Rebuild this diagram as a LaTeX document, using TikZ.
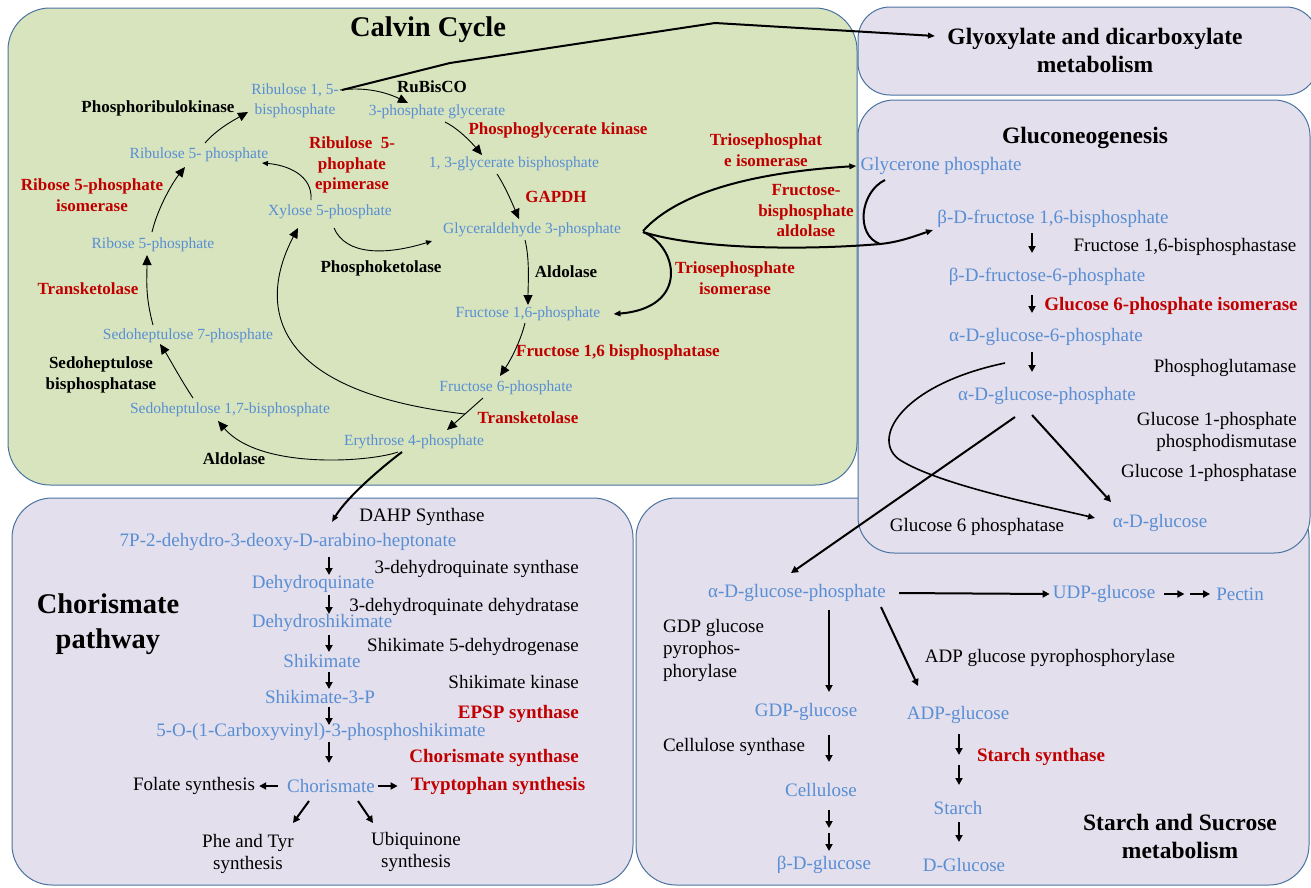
\documentclass[tikz,border=0pt]{standalone}
\usepackage{fontspec}
\setmainfont{Liberation Serif}
\usetikzlibrary{arrows.meta,calc}
\definecolor{cgreen}{RGB}{215,228,189}
\definecolor{clav}{RGB}{228,223,236}
\definecolor{cedge}{RGB}{75,115,160}
\definecolor{cblue}{RGB}{88,142,212}
\definecolor{cred}{RGB}{192,0,0}
\tikzset{
 cb/.style={font=\fontsize{15.5}{20}\selectfont, text=cblue, inner sep=0pt, align=center},
 ck/.style={font=\bfseries\fontsize{17}{20.5}\selectfont, inner sep=0pt, align=center},
 cr/.style={ck, text=cred},
 gb/.style={font=\fontsize{19}{23}\selectfont, text=cblue, inner sep=0pt},
 gk/.style={font=\fontsize{19}{22.5}\selectfont, inner sep=0pt},
 gr/.style={font=\bfseries\fontsize{19}{23}\selectfont, text=cred, inner sep=0pt},
 bigt/.style={font=\bfseries\fontsize{28.5}{35}\selectfont, inner sep=0pt, align=center},
 midt/.style={font=\bfseries\fontsize{23.5}{28}\selectfont, inner sep=0pt, align=center},
 panel/.style={draw=cedge, line width=1pt},
 tarr/.style={line width=0.9pt, -{Triangle[length=10pt,width=9pt]}},
 tsarr/.style={line width=0.9pt, -{Triangle[length=6pt,width=5pt]}},
 thk/.style={line width=2pt, -{Triangle[length=7pt,width=5.5pt]}},
 karr/.style={line width=2pt, -{Triangle[length=7pt,width=7pt]}},
}
\begin{document}
\begin{tikzpicture}[x=1pt,y=-1pt]
\useasboundingbox (0,0) rectangle (1311,887);
\clip (0,0) rectangle (1311,887);
\fill[white] (0,0) rectangle (1311,887);
% panels
\draw[panel, fill=cgreen, rounded corners=42] (8,8) rectangle (857,485);
\draw[panel, fill=clav, rounded corners=32] (858,7) rectangle (1318,95);
\draw[panel, fill=clav, rounded corners=40] (12,498) rectangle (633,885);
\draw[panel, fill=clav, rounded corners=40] (636,498) rectangle (1309,885);
\draw[panel, fill=clav, rounded corners=36] (858,100) rectangle (1310,553);

% ---------------- Calvin cycle ----------------
\node[bigt] (calvin) at (428,30) {Calvin Cycle};
\node[cb] (rubp) at (295,101) {Ribulose 1, 5-\\bisphosphate};
\node[ck] (prk) at (158,108) {Phosphoribulokinase};
\node[ck] (rubisco) at (432,87) {RuBisCO};
\node[cb] (pg3) at (437,112) {3-phosphate glycerate};
\node[cr] (pgk) at (558,130) {Phosphoglycerate kinase};
\node[cr] (rpe) at (352,165) {Ribulose\ \ 5-\\phophate\\epimerase};
\node[cb] (bpg) at (514,164) {1, 3-glycerate bisphosphate};
\node[cr] (gapdh) at (556,197) {GAPDH};
\node[cb] (ru5p) at (199,155) {Ribulose 5- phosphate};
\node[cb] (xu5p) at (330,212) {Xylose 5-phosphate};
\node[cr] (rpi) at (92,195) {Ribose 5-phosphate\\isomerase};
\node[cb] (g3p) at (532,230) {Glyceraldehyde 3-phosphate};
\node[cb] (r5p) at (153,245) {Ribose 5-phosphate};
\node[ck] (pk) at (381,268) {Phosphoketolase};
\node[ck] (ald1) at (566,272) {Aldolase};
\node[cr] (tpi1) at (766,150) {Triosephosphat\\e isomerase};
\node[cr] (fba) at (806,211) {Fructose-\\bisphosphate\\aldolase};
\node[cr] (tpi2) at (735,278) {Triosephosphate\\isomerase};
\node[cr] (tk1) at (88,289) {Transketolase};
\node[cb] (f16p) at (528,314) {Fructose 1,6-phosphate};
\node[cb] (s7p) at (188,336) {Sedoheptulose 7-phosphate};
\node[cr] (fbp) at (618,352) {Fructose 1,6 bisphosphatase};
\node[ck] (sbp) at (101,375) {Sedoheptulose\\bisphosphatase};
\node[cb] (f6p) at (506,388) {Fructose 6-phosphate};
\node[cb] (s17bp) at (230,410) {Sedoheptulose 1,7-bisphosphate};
\node[cr] (tk2) at (528,418) {Transketolase};
\node[cb] (e4p) at (414,442) {Erythrose 4-phosphate};
\node[ck] (ald2) at (234,459) {Aldolase};

% ---------------- Gluconeogenesis ----------------
\node[midt] (glyox) at (1095,50) {Glyoxylate and dicarboxylate\\metabolism};
\node[midt] (gluco) at (1085,138) {Gluconeogenesis};
\node[gb] (glyc) at (941,166) {Glycerone phosphate};
\node[gb] (bfbp) at (1053,219) {β-D-fructose 1,6-bisphosphate};
\node[gk] (fbpase) at (1185,247) {Fructose 1,6-bisphosphastase};
\node[gb] (bf6p) at (1047,277) {β-D-fructose-6-phosphate};
\node[gr] (gpi) at (1171,306) {Glucose 6-phosphate isomerase};
\node[gb] (ag6p) at (1046,337) {α-D-glucose-6-phosphate};
\node[gk] (pgm) at (1225,368) {Phosphoglutamase};
\node[gb] (agp) at (1047,396) {α-D-glucose-phosphate};
\node[gk, align=right, anchor=east] (g1pd) at (1297,432) {Glucose 1-phosphate\\phosphodismutase};
\node[gk, anchor=east] (g1pase) at (1297,473) {Glucose 1-phosphatase};
\node[gk] (g6pase) at (977,527) {Glucose 6 phosphatase};
\node[gb] (aglc) at (1160,523) {α-D-glucose};

% ---------------- Chorismate ----------------
\node[bigt] (chtitle) at (108,624) {Chorismate\\pathway};
\node[gk] (dahps) at (422,517) {DAHP Synthase};
\node[gb] (dahp) at (288,542) {7P-2-dehydro-3-deoxy-D-arabino-heptonate};
\node[gk, anchor=east] (dhqs) at (579,569) {3-dehydroquinate synthase};
\node[gb] (dhq) at (313,584) {Dehydroquinate};
\node[gk, anchor=east] (dhqd) at (579,607) {3-dehydroquinate dehydratase};
\node[gb] (dhs) at (322,623) {Dehydroshikimate};
\node[gk, anchor=east] (sdh) at (579,647) {Shikimate 5-dehydrogenase};
\node[gb] (shk) at (322,661) {Shikimate};
\node[gk, anchor=east] (sk) at (579,682) {Shikimate kinase};
\node[gb] (s3p) at (320,697) {Shikimate-3-P};
\node[gr, anchor=east] (epsps) at (579,714) {EPSP synthase};
\node[gb] (epsp) at (321,732) {5-O-(1-Carboxyvinyl)-3-phosphoshikimate};
\node[gr, anchor=east] (cs) at (579,758) {Chorismate synthase};
\node[gb] (chor) at (331,786) {Chorismate};
\node[gk] (fol) at (194,786) {Folate synthesis};
\node[gr] (trp) at (498,786) {Tryptophan synthesis};
\node[gk, align=center] (phe) at (248,854) {Phe and Tyr\\synthesis};
\node[gk, align=center] (ubi) at (416,852) {Ubiquinone\\synthesis};

% ---------------- Starch and sucrose ----------------
\node[gb] (sagp) at (797,593) {α-D-glucose-phosphate};
\node[gb] (udp) at (1104,594) {UDP-glucose};
\node[gb] (pectin) at (1240,594) {Pectin};
\node[gk, align=left, anchor=west] (gdpp) at (663,650) {GDP glucose\\pyrophos-\\phorylase};
\node[gk] (adpp) at (1050,658) {ADP glucose pyrophosphorylase};
\node[gb] (gdpg) at (806,712) {GDP-glucose};
\node[gb] (adpg) at (958,715) {ADP-glucose};
\node[gk] (cels) at (734,747) {Cellulose synthase};
\node[gr] (sts) at (1041,757) {Starch synthase};
\node[gb] (cell) at (821,790) {Cellulose};
\node[gb] (starch) at (958,808) {Starch};
\node[gb] (bglc) at (824,865) {β-D-glucose};
\node[gb] (dglc) at (964,865) {D-Glucose};
\node[midt] (sstitle) at (1180,836) {Starch and Sucrose\\metabolism};

% ---------------- Calvin connectors ----------------
\draw[tarr] ($(rubp)+(45,-11)$) .. controls +(30,-4) and +(-16,-8) .. ($(pg3)+(-29,-9)$);
\draw[thk] ($(rubp)+(47,-11)$) -- (450,63) -- (715,23) -- ($(glyox)+(-160,-14)$);
\draw[tarr] ($(ru5p)+(6,-12)$) .. controls +(12,-14) and +(-14,8) .. ($(rubp)+(-47,11)$);
\draw[tarr] ($(r5p)+(-1,-13)$) .. controls +(6,-25) and +(-12,15) .. ($(ru5p)+(-14,12)$);
\draw[tsarr] ($(xu5p)+(-19,-12)$) .. controls +(2,-25) and +(25,2) .. ($(ru5p)+(63,8)$);
\draw[tsarr] ($(xu5p)+(4,16)$) .. controls +(12,28) and +(-45,14) .. ($(g3p)+(-100,11)$);
\draw[tarr] ($(pg3)+(8,10)$) .. controls +(14,7) and +(-10,-12) .. ($(bpg)+(-32,-9)$);
\draw[tarr] ($(bpg)+(-17,10)$) .. controls +(8,12) and +(-6,-14) .. ($(g3p)+(-13,-11)$);
\draw[tarr] ($(g3p)+(-7,10)$) .. controls +(5,20) and +(0,-20) .. ($(f16p)+(0,-9)$);
\draw[thk] ($(g3p)+(111,1)$) .. controls +(37,-41) and +(-96,6) .. ($(glyc.west)+(-4,0)$);
\coordinate (jn) at (880,244);
\draw[thk] ($(g3p)+(111,2)$) .. controls (700,250) and (810,250) .. (jn)
   .. controls (900,242) and (915,236) .. ($(bfbp)+(-120,11)$);
\draw[line width=2pt] ($(glyc)+(-56,14)$) .. controls (860,192) and (855,235) .. (jn);
\draw[thk] ($(g3p)+(111,2)$) .. controls (678,246) and (690,308) .. ($(f16p.east)+(13,0)$);
\draw[tarr] ($(f16p)+(-3,9)$) .. controls +(-5,20) and +(10,-15) .. ($(f6p)+(-6,-12)$);
\draw[tarr] ($(f6p)+(-23,10)$) -- ($(e4p)+(33,-12)$);
\draw[tarr] ($(f6p)+(-41,26)$) .. controls +(-215,-25) and +(-33,62) .. ($(xu5p)+(-32,16)$);
\draw[tarr] ($(e4p)+(-16,10)$) .. controls +(-28,10) and +(42,49) .. ($(s17bp)+(-12,11)$);
\draw[tarr] ($(s17bp)+(-37,-12)$) .. controls +(-12,-18) and +(8,12) .. ($(s7p)+(-28,8)$);
\draw[tarr] ($(s7p)+(-35,-11)$) .. controls +(-8,-30) and +(0,25) .. ($(r5p)+(-6,10)$);
\draw[thk] ($(e4p)+(-12,10)$) .. controls +(-20,15) and +(15,-25) .. ($(dahp)+(44,-20)$);

% ---------------- Gluconeogenesis connectors ----------------
\draw[karr] ($(bfbp)+(-21,14)$) -- ($(bf6p)+(-15,-24)$);
\draw[karr] ($(bf6p)+(-15,18)$) -- ($(ag6p)+(-14,-24)$);
\draw[karr] ($(ag6p)+(-14,15)$) -- ($(agp)+(-15,-24)$);
\draw[karr] ($(agp)+(-15,19)$) -- ($(aglc)+(-49,-21)$);
\draw[line width=1.6pt, -{Triangle[length=7pt,width=6pt]}] ($(ag6p)+(-41,26)$)
   .. controls (900,385) and (870,440) .. (900,460)
   .. controls (940,485) and (1040,505) .. ($(aglc)+(-65,-5)$);
\draw[karr] ($(agp)+(-32,21)$) -- ($(sagp)+(-6,-20)$);

% ---------------- Chorismate connectors ----------------
\draw[karr] ($(dahp)+(41,15)$) -- ($(dhq)+(16,-9)$);
\draw[karr] ($(dhq)+(16,11)$) -- ($(dhs)+(7,-9)$);
\draw[karr] ($(dhs)+(7,12)$) -- ($(shk)+(7,-9)$);
\draw[karr] ($(shk)+(7,11)$) -- ($(s3p)+(9,-8)$);
\draw[karr] ($(s3p)+(9,10)$) -- ($(epsp)+(8,-7)$);
\draw[karr] ($(epsp)+(8,10)$) -- ($(chor)+(-2,-23)$);
\draw[karr] ($(chor.west)+(-9,0)$) -- ($(fol.east)+(4,0)$);
\draw[karr] ($(chor.east)+(3,0)$) -- ($(trp.west)+(-13,0)$);
\draw[karr] ($(chor)+(-22,15)$) -- ($(phe)+(45,-31)$);
\draw[karr] ($(chor)+(27,15)$) -- ($(ubi)+(-43,-29)$);

% ---------------- Starch connectors ----------------
\draw[karr] ($(sagp.east)+(13,0)$) -- ($(udp.west)+(-3,0)$);
\draw[karr] ($(udp.east)+(9,0)$) -- ($(udp.east)+(29,0)$);
\draw[karr] ($(udp.east)+(35,0)$) -- ($(pectin.west)+(-6,0)$);
\draw[karr] ($(sagp)+(32,17)$) -- ($(gdpg)+(23,-20)$);
\draw[karr] ($(sagp)+(84,14)$) -- ($(adpg)+(-40,-29)$);
\draw[karr] ($(gdpg)+(23,23)$) -- ($(cell)+(8,-28)$);
\draw[karr] ($(adpg)+(1,19)$) -- ($(adpg)+(1,40)$);
\draw[karr] ($(starch)+(1,-43)$) -- ($(starch)+(1,-23)$);
\draw[karr] ($(cell)+(8,20)$) -- ($(cell)+(8,38)$);
\draw[karr] ($(bglc)+(5,-32)$) -- ($(bglc)+(5,-14)$);
\draw[karr] ($(starch)+(1,14)$) -- ($(dglc)+(-5,-23)$);
\end{tikzpicture}
\end{document}
